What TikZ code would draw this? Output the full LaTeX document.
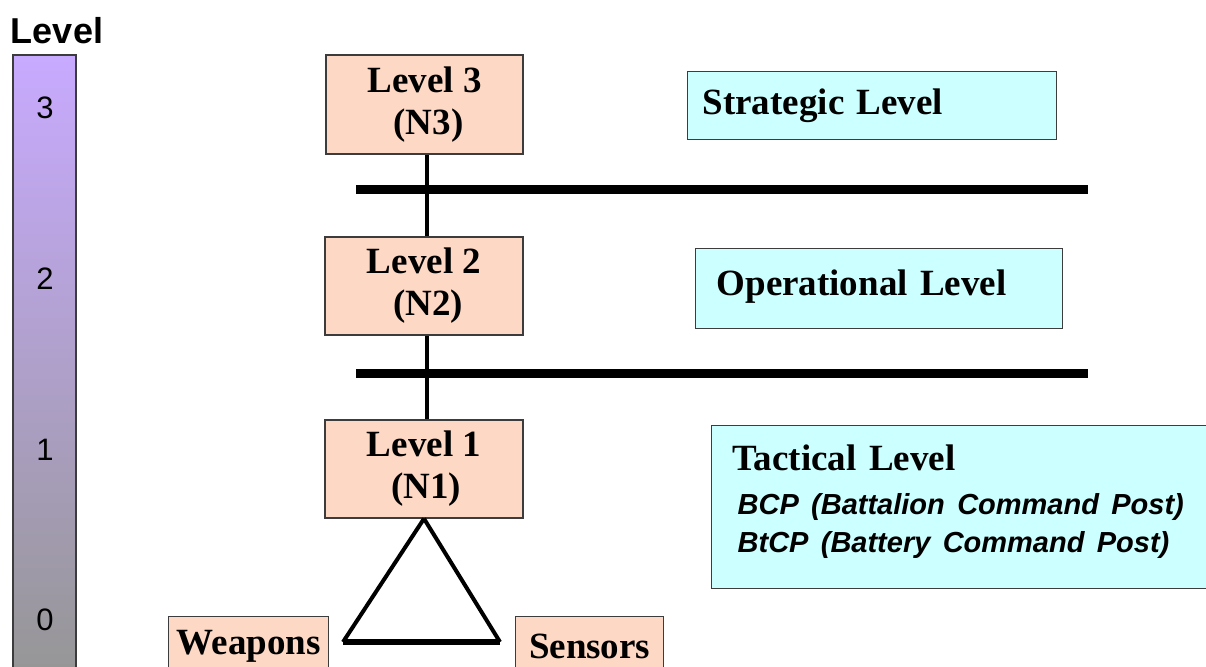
\documentclass[tikz,border=0pt]{standalone}
\usepackage{fontspec}
\setmainfont{Liberation Serif}
\setsansfont{Liberation Sans}
\definecolor{peach}{RGB}{253,216,196}
\definecolor{paleCyan}{RGB}{204,255,255}
\definecolor{edge}{RGB}{60,60,60}
\definecolor{lavtop}{RGB}{200,170,255}
\definecolor{barbot}{RGB}{150,150,150}
\tikzset{
  lvlbox/.style={draw=edge, line width=1.3pt, fill=peach, inner sep=0pt, align=center,
     font=\fontsize{37}{42}\selectfont\bfseries},
  cyanbox/.style={draw=edge, line width=1.3pt, fill=paleCyan, anchor=north west, align=left,
     inner ysep=0pt, font=\fontsize{37}{44}\selectfont\bfseries},
  endbox/.style={draw=edge, line width=1.3pt, fill=peach, anchor=north west, inner sep=0pt,
     minimum height=60pt, font=\fontsize{37}{42}\selectfont\bfseries},
  link/.style={line width=4pt, black},
  bar/.style={line width=9pt, black},
  digit/.style={font=\sffamily\fontsize{31}{32}\selectfont},
}
\begin{document}
\begin{tikzpicture}[x=1pt,y=-1pt]
\useasboundingbox (0,0) rectangle (1206,666);
\clip (0,0) rectangle (1206,666);
\fill[white] (0,0) rectangle (1206,666);

% level scale
\node[font=\sffamily\bfseries\fontsize{36}{38}\selectfont] (lvl) at (57,31) {Level};
\shade[top color=lavtop, bottom color=barbot, draw=edge, line width=1.3pt] (13,55) rectangle (76,672);
\node[digit] (d3) at (45,108) {3};
\node[digit] (d2) at (45,279) {2};
\node[digit] (d1) at (45,450) {1};
\node[digit] (d0) at (45,620) {0};

% bars
\coordinate (b1l) at (356,189); \coordinate (b1r) at (1088,189);
\coordinate (b2l) at (356,373); \coordinate (b2r) at (1088,373);
\draw[bar] (b1l) -- (b1r);
\draw[bar] (b2l) -- (b2r);

% level nodes
\node[lvlbox, minimum width=197pt, minimum height=99pt] (L3) at (424.5,104.5) {Level 3\\\hspace*{8pt}(N3)};
\node[lvlbox, minimum width=198pt, minimum height=98pt] (L2) at (424,286) {Level 2\\\hspace*{8pt}(N2)};
\node[lvlbox, minimum width=198pt, minimum height=98pt] (L1) at (424,469) {Level 1\\\hspace*{4pt}(N1)};

\draw[link] (L3.south -| 427,0) -- (L2.north -| 427,0);
\draw[link] (L2.south -| 427,0) -- (L1.north -| 427,0);

% triangle
\coordinate (tl) at (343,642);
\coordinate (tr) at (500,642);
\draw[line width=4pt] (L1.south) -- (tl);
\draw[line width=4pt] (L1.south) -- (tr);
\draw[line width=6pt] (tl) -- (tr);

% end boxes
\node[endbox, minimum width=160pt] (wp) at (168,616) {Weapons};
\node[endbox, minimum width=148pt] (sn) at (515,616) {Sensors};

% right boxes
\node[cyanbox, minimum width=369pt, minimum height=68pt, inner xsep=14pt, text width=339pt] (sl) at (687,71) {Strategic Level};
\node[cyanbox, minimum width=367pt, minimum height=80pt, inner xsep=21pt, text width=325pt] (ol) at (695,248) {Operational Level\par\vspace{4pt}\hrule height 0pt};
\node[cyanbox, minimum width=505pt, minimum height=163pt, inner xsep=21pt, text width=463pt] (tl2) at (711,425)
 {Tactical Level\par\vspace{6pt}%
  {\sffamily\bfseries\itshape\fontsize{29}{38}\selectfont\hspace*{5pt}BCP (Battalion Command Post)\\\hspace*{5pt}BtCP (Battery Command Post)\par}\vspace{11pt}\hrule height 0pt};
\end{tikzpicture}
\end{document}
